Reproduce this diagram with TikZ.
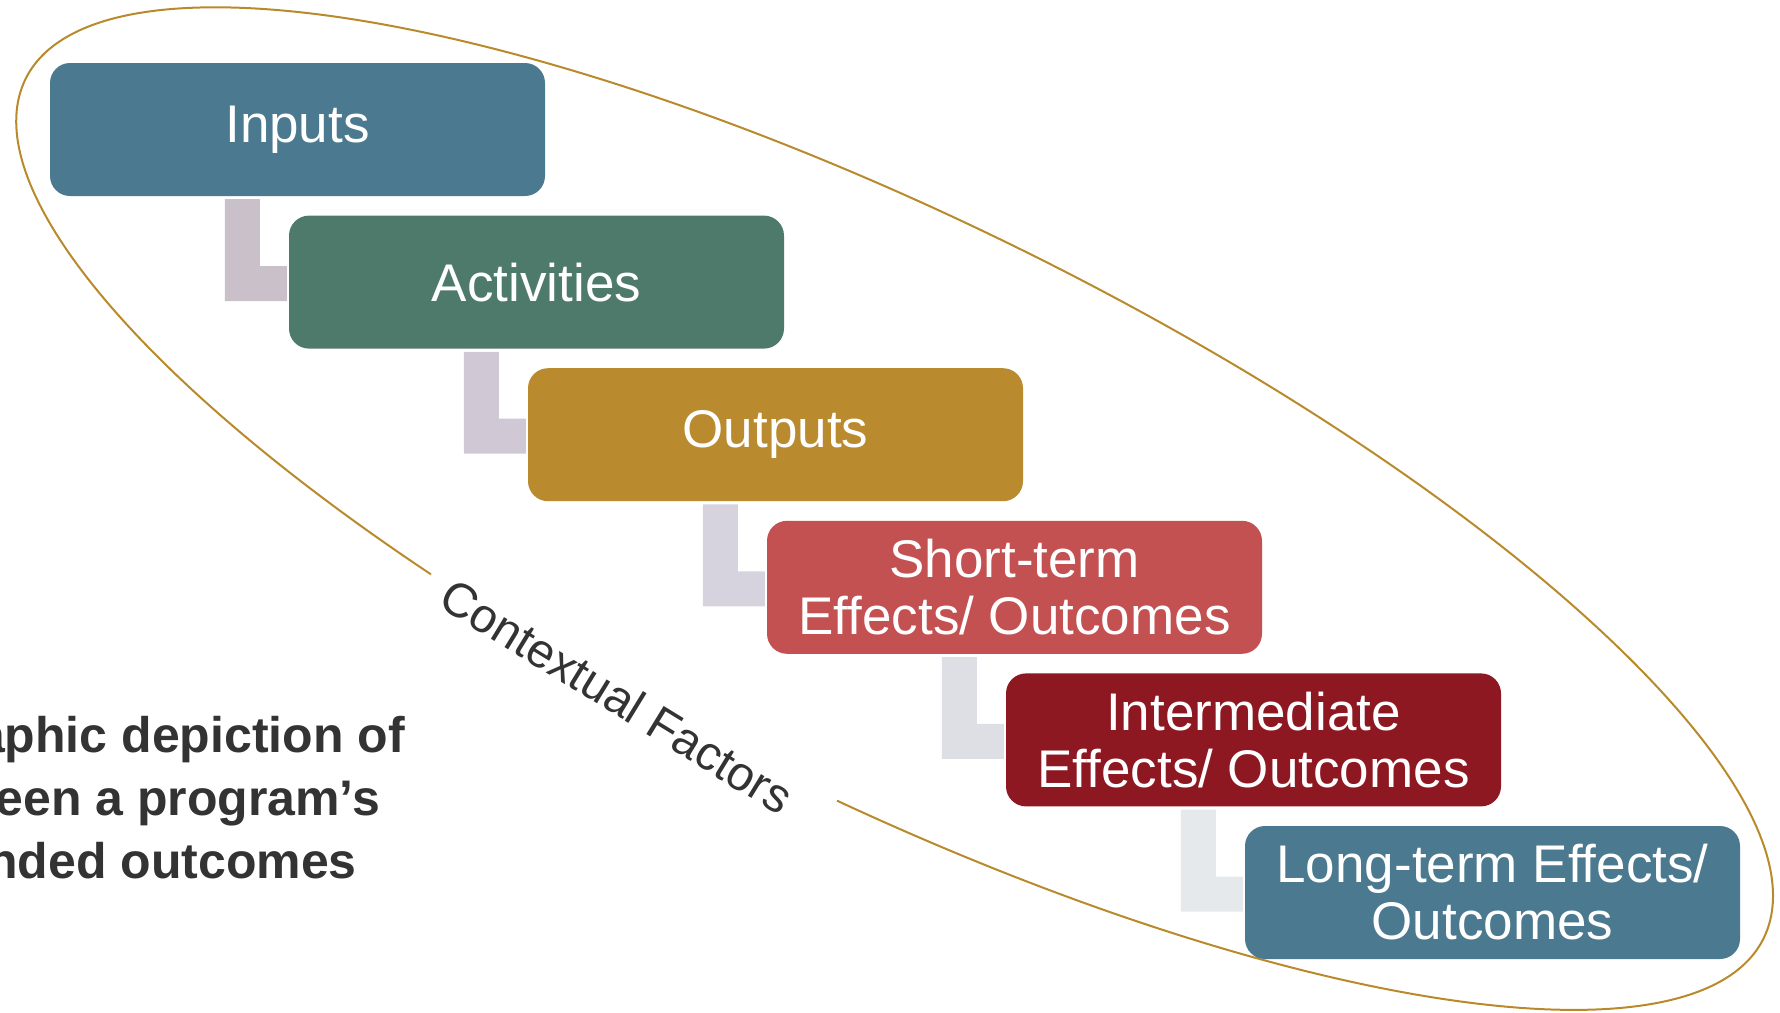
\documentclass[tikz,border=0pt]{standalone}
\usepackage{fontspec}
\setmainfont{Liberation Sans}
\usetikzlibrary{calc}
\definecolor{cIn}{HTML}{4B798F}
\definecolor{cAct}{HTML}{4E7A6C}
\definecolor{cOut}{HTML}{BA8A2E}
\definecolor{cST}{HTML}{C45152}
\definecolor{cIM}{HTML}{8E1822}
\definecolor{cLT}{HTML}{4B798F}
\definecolor{cRing}{HTML}{B98A2C}
\definecolor{cTxt}{HTML}{333333}
\definecolor{lA}{HTML}{C9C0C9}
\definecolor{lB}{HTML}{D0C9D5}
\definecolor{lC}{HTML}{D6D3DE}
\definecolor{lD}{HTML}{DEDFE4}
\definecolor{lE}{HTML}{E6E9EC}
\begin{document}
\begin{tikzpicture}[x=1pt,y=-1pt,
  stage/.style={rounded corners=20pt, minimum width=495pt, minimum height=133pt,
    inner sep=0pt, text=white, align=center, font=\fontsize{53}{57}\selectfont},
  ring/.style={draw=cRing, line width=2pt},
  ctxlabel/.style={text=cTxt, font=\fontsize{48}{52}\selectfont, inner sep=0pt},
  note/.style={text=cTxt, font=\fontsize{50}{60}\selectfont\bfseries, inner sep=0pt}]
\useasboundingbox (0,0) rectangle (1780,1012);
\clip (0,0) rectangle (1780,1012);
% contextual ring (ellipse with a gap for its label)
\begin{scope}[shift={(894.6,508.6)}, rotate=-26.3]
  \draw[ring] (274.6:969.5pt and 288.3pt)
    arc[start angle=274.6, end angle=606.5, x radius=969.5pt, y radius=288.3pt];
\end{scope}
\node[ctxlabel, rotate=-31.5] (ctx) at (617,696) {Contextual Factors};
% stages
\node[stage, fill=cIn]  (inputs)     at (297.5,129.5) {Inputs};
\node[stage, fill=cAct] (activities) at (536.5,282.1) {Activities};
\node[stage, fill=cOut] (outputs)    at (775.5,434.7) {Outputs};
\node[stage, fill=cST]  (short)      at (1014.5,587.3) {Short-term\\Effects/ Outcomes};
\node[stage, fill=cIM]  (inter)      at (1253.5,739.9) {Intermediate\\Effects/ Outcomes};
\node[stage, fill=cLT]  (long)       at (1492.5,892.5) {Long-term Effects/\\Outcomes};
% L-shaped links
\foreach \a/\b/\c in {inputs/activities/lA, activities/outputs/lB, outputs/short/lC, short/inter/lD, inter/long/lE}{
  \fill[\c] let \p1=(\a.south west), \p2=(\b.west) in
    (\x1+175pt,\y1-3pt) -- (\x1+210pt,\y1-3pt) -- (\x1+210pt,\y2+16pt) --
    (\x2-2pt,\y2+16pt) -- (\x2-2pt,\y2-19pt) -- (\x1+175pt,\y2-19pt) -- cycle;
}
% caption fragment at left
\node[note, anchor=base east] (n1) at (405,752) {aphic depiction of};
\node[note, anchor=base east] (n2) at (380,815) {een a program’s};
\node[note, anchor=base east] (n3) at (357,878) {nded outcomes};
\end{tikzpicture}
\end{document}
